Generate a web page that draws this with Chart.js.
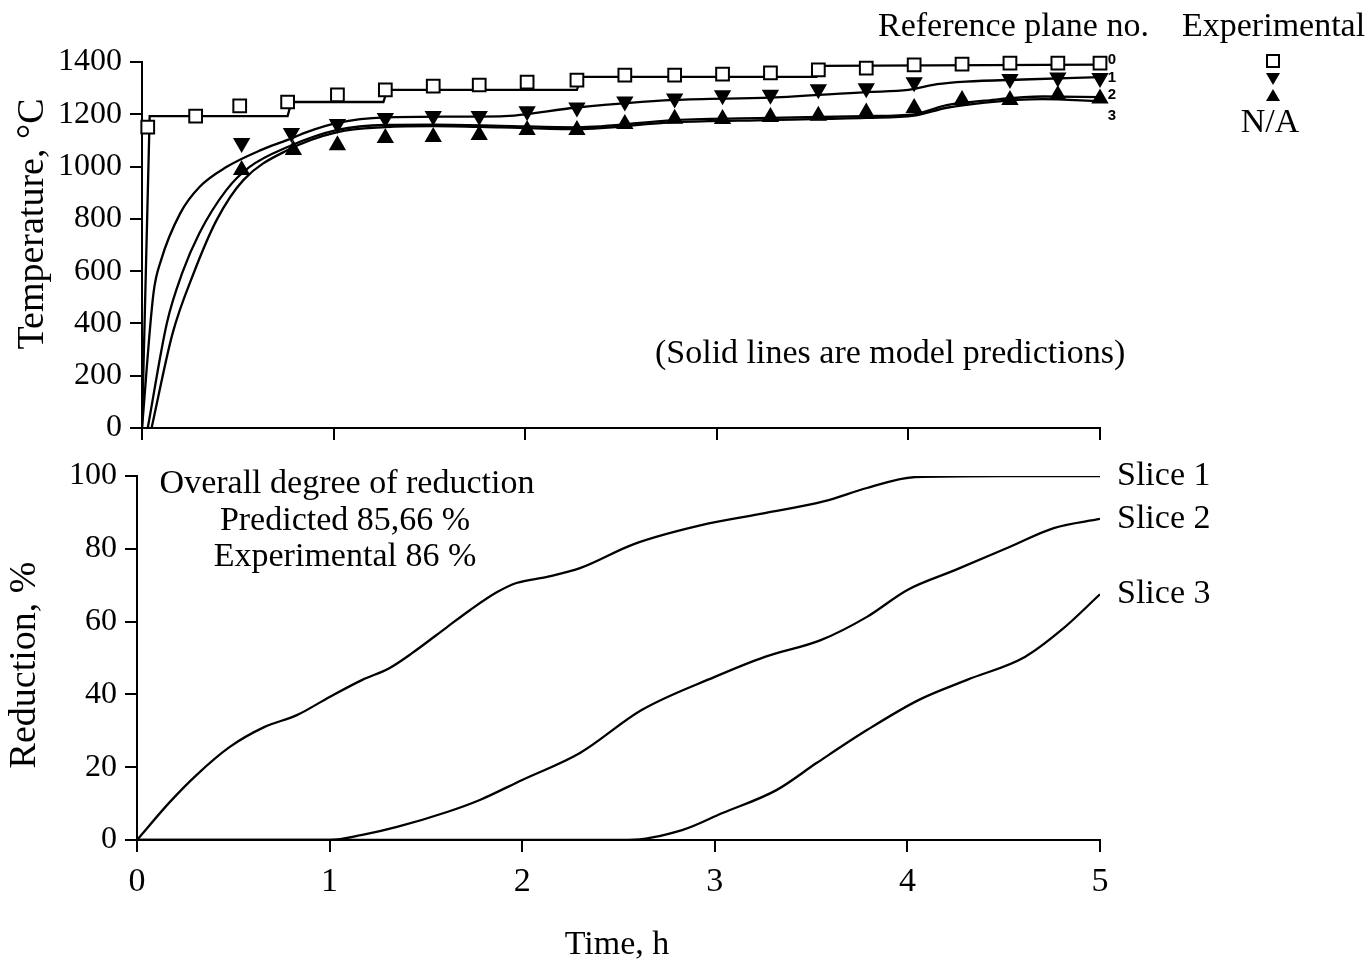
<!DOCTYPE html>
<html>
<head>
<meta charset="utf-8">
<script src="https://cdn.jsdelivr.net/npm/chart.js@4.4.0/dist/chart.umd.min.js"></script>
<style>
  html, body { margin: 0; padding: 0; background: #fff; }
  #wrap { position: relative; width: 1372px; height: 962px; }
  canvas { position: absolute; left: 0; top: 0; }
</style>
</head>
<body>
<div id="wrap">
  <canvas id="temp" width="1372" height="962"></canvas>
  <canvas id="red" width="1372" height="962"></canvas>
</div>
<script>
// values (time in h)
const timeTicks = [0, 1, 2, 3, 4, 5];

// model predictions, temperature in degC, per reference plane
const plane0Time = [0, 0.04, 0.76, 0.78, 1.26, 1.28, 2.27, 2.29, 3.52, 3.54, 5.0];
const plane0Temp = [0, 1193, 1193, 1247, 1247, 1293, 1293, 1343, 1343, 1385, 1390];

const plane1Time = [0, 0.06, 0.10, 0.20, 0.30, 0.44, 0.62, 0.76, 0.86, 1.02, 1.27, 1.60, 1.87, 2.27, 2.78, 3.28, 3.78, 4.0, 4.15, 4.3, 4.6, 5.0];
const plane1Temp = [0, 516, 643, 822, 922, 998, 1063, 1102, 1132, 1167, 1188, 1191, 1192, 1226, 1255, 1264, 1285, 1293, 1315, 1325, 1333, 1342];

const plane2Time = [0.03, 0.13, 0.21, 0.30, 0.44, 0.56, 0.76, 1.02, 1.27, 1.52, 1.87, 2.27, 2.78, 3.28, 3.78, 4.03, 4.2, 4.4, 4.7, 5.0];
const plane2Temp = [0, 402, 593, 746, 910, 998, 1075, 1140, 1159, 1160, 1156, 1150, 1178, 1186, 1193, 1200, 1235, 1252, 1268, 1266];

const plane3Time = [0.05, 0.16, 0.27, 0.39, 0.53, 0.76, 1.02, 1.27, 1.52, 1.87, 2.27, 2.78, 3.28, 3.78, 4.03, 4.2, 4.4, 4.7, 5.0];
const plane3Temp = [0, 363, 593, 796, 949, 1063, 1132, 1151, 1155, 1150, 1143, 1170, 1178, 1186, 1195, 1225, 1245, 1258, 1250];

// experimental points
const exp0Time = [0.03, 0.28, 0.51, 0.76, 1.02, 1.27, 1.52, 1.76, 2.01, 2.27, 2.52, 2.78, 3.03, 3.28, 3.53, 3.78, 4.03, 4.28, 4.53, 4.78, 5.0];
const exp0Temp = [1151, 1193, 1232, 1247, 1274, 1293, 1308, 1312, 1323, 1331, 1350, 1350, 1354, 1358, 1370, 1377, 1389, 1392, 1396, 1396, 1396];

const exp1Time = [0.52, 0.78, 1.02, 1.27, 1.52, 1.76, 2.01, 2.27, 2.52, 2.78, 3.03, 3.28, 3.53, 3.78, 4.03, 4.53, 4.78, 5.0];
const exp1Temp = [1090, 1128, 1163, 1186, 1193, 1193, 1212, 1226, 1249, 1260, 1273, 1275, 1296, 1300, 1323, 1335, 1341, 1339];

const exp2Time = [0.52, 0.79, 1.02, 1.27, 1.52, 1.76, 2.01, 2.27, 2.52, 2.78, 3.03, 3.28, 3.53, 3.78, 4.03, 4.28, 4.53, 4.78, 5.0];
const exp2Temp = [987, 1063, 1082, 1109, 1113, 1121, 1140, 1140, 1163, 1183, 1182, 1190, 1194, 1207, 1224, 1255, 1255, 1274, 1260];

// reduction in %, per slice
const slice1Time = [0, 0.17, 0.31, 0.48, 0.66, 0.83, 1.0, 1.17, 1.31, 1.43, 1.61, 1.73, 1.87, 1.97, 2.13, 2.30, 2.58, 2.93, 3.26, 3.57, 3.79, 4.04, 4.5, 5.0];
const slice1Red = [0, 10.4, 17.9, 25.5, 31, 34.3, 39.3, 44, 47.2, 51.4, 58.5, 63.2, 68.1, 70.6, 72.3, 74.7, 81.3, 86.5, 89.8, 93.1, 96.7, 99.7, 100, 100];

const slice2Time = [0, 1.0, 1.17, 1.35, 1.61, 1.78, 2.0, 2.30, 2.62, 3.0, 3.26, 3.55, 3.79, 4.0, 4.25, 4.53, 4.76, 5.0];
const slice2Red = [0, 0, 1.4, 3.6, 7.7, 11, 16.5, 23.9, 35.7, 44.8, 50.3, 54.9, 61.3, 68.7, 74.2, 80.5, 85.7, 88.2];

const slice3Time = [0, 2.55, 2.83, 3.04, 3.32, 3.53, 3.79, 4.06, 4.31, 4.61, 4.80, 5.0];
const slice3Red = [0, 0, 2.7, 7.4, 13.7, 21.2, 30.2, 38.5, 44, 50.3, 57.7, 67.5];

const sliceNames = ['Slice 1', 'Slice 2', 'Slice 3'];

const SERIF = '"Liberation Serif", "Times New Roman", serif';

function pts(xs, ys) {
  return xs.map((x, i) => ({ x: x, y: ys[i] }));
}

function modelLine(xs, ys, smooth) {
  return {
    data: pts(xs, ys),
    showLine: true,
    pointRadius: 0,
    borderColor: '#000',
    borderWidth: 2.3,
    cubicInterpolationMode: smooth ? 'monotone' : 'default',
    tension: 0,
    order: 1
  };
}

function markers(xs, ys, style, rot, fill, r) {
  return {
    data: pts(xs, ys),
    showLine: false,
    pointStyle: style,
    rotation: rot,
    pointRadius: r,
    pointBorderWidth: 2,
    pointBorderColor: '#000',
    pointBackgroundColor: fill,
    clip: false,
    order: 0
  };
}

function axis(min, max, step, fit, showLabels, fontSize, pad) {
  return {
    type: 'linear',
    min: min,
    max: max,
    afterFit: fit,
    ticks: {
      stepSize: step,
      display: showLabels,
      color: '#000',
      padding: pad,
      font: { family: SERIF, size: fontSize },
      callback: v => String(v)
    },
    grid: { drawOnChartArea: false, drawTicks: true, tickLength: 12, color: '#000', lineWidth: 2 },
    border: { display: true, color: '#000', width: 2 }
  };
}

const topText = {
  id: 'topText',
  afterDraw(chart) {
    const ctx = chart.ctx;
    ctx.save();
    ctx.fillStyle = '#000';
    ctx.strokeStyle = '#000';
    ctx.textBaseline = 'middle';
    ctx.font = '34px ' + SERIF;
    ctx.textAlign = 'left';
    ctx.fillText('Reference plane no.', 878, 27);
    ctx.fillText('Experimental', 1182, 27);
    ctx.fillText('(Solid lines are model predictions)', 655, 354);
    ctx.textAlign = 'center';
    ctx.fillText('N/A', 1270, 123);

    ctx.font = 'bold 15px "Liberation Sans", Arial, sans-serif';
    ['0', '1', '2', '3'].forEach((s, i) => ctx.fillText(s, 1112, [60, 78, 95, 116][i]));

    // key of experimental symbols
    ctx.lineWidth = 2;
    ctx.strokeRect(1267, 55, 12, 12);
    ctx.beginPath();
    ctx.moveTo(1266, 73); ctx.lineTo(1280, 73); ctx.lineTo(1273, 85); ctx.closePath();
    ctx.fill();
    ctx.beginPath();
    ctx.moveTo(1266, 101); ctx.lineTo(1280, 101); ctx.lineTo(1273, 89); ctx.closePath();
    ctx.fill();

    ctx.translate(33, 224);
    ctx.rotate(-Math.PI / 2);
    ctx.font = '38px ' + SERIF;
    ctx.textAlign = 'center';
    ctx.fillText('Temperature, \u00B0C', 0, 0);
    ctx.restore();
  }
};

const bottomText = {
  id: 'bottomText',
  afterDraw(chart) {
    const ctx = chart.ctx;
    const xs = chart.scales.x, ys = chart.scales.y;
    ctx.save();
    ctx.fillStyle = '#000';
    ctx.textBaseline = 'middle';
    ctx.font = '34px ' + SERIF;
    ctx.textAlign = 'center';
    ctx.fillText('Overall degree of reduction', 347, 484);
    ctx.fillText('Predicted 85,66 %', 345, 521);
    ctx.fillText('Experimental 86 %', 345, 557);
    ctx.fillText('Time, h', 617, 945);

    ctx.textAlign = 'left';
    const ends = [slice1Red, slice2Red, slice3Red].map(a => a[a.length - 1]);
    sliceNames.forEach((name, i) => {
      ctx.fillText(name, xs.right + 17, ys.getPixelForValue(ends[i]));
    });

    ctx.translate(25, 665);
    ctx.rotate(-Math.PI / 2);
    ctx.font = '38px ' + SERIF;
    ctx.textAlign = 'center';
    ctx.fillText('Reduction, %', 0, 0);
    ctx.restore();
  }
};

new Chart(document.getElementById('temp'), {
  type: 'scatter',
  data: {
    datasets: [
      modelLine(plane0Time, plane0Temp, false),
      modelLine(plane1Time, plane1Temp, true),
      modelLine(plane2Time, plane2Temp, true),
      modelLine(plane3Time, plane3Temp, true),
      markers(exp0Time, exp0Temp, 'rect', 0, '#fff', 9),
      markers(exp1Time, exp1Temp, 'triangle', 180, '#000', 8),
      markers(exp2Time, exp2Temp, 'triangle', 0, '#000', 8)
    ]
  },
  options: {
    responsive: false,
    animation: false,
    devicePixelRatio: 1,
    layout: { padding: { left: 0, top: 62, right: 272, bottom: 514 } },
    plugins: { legend: { display: false }, tooltip: { enabled: false } },
    scales: {
      x: axis(timeTicks[0], timeTicks[timeTicks.length - 1], 1, s => { s.height = 20; }, false, 34, 8),
      y: axis(0, 1400, 200, s => { s.width = 142; }, true, 32, 8)
    }
  },
  plugins: [topText]
});

new Chart(document.getElementById('red'), {
  type: 'scatter',
  data: {
    datasets: [
      modelLine(slice1Time, slice1Red, true),
      modelLine(slice2Time, slice2Red, true),
      modelLine(slice3Time, slice3Red, true)
    ]
  },
  options: {
    responsive: false,
    animation: false,
    devicePixelRatio: 1,
    layout: { padding: { left: 0, top: 476, right: 272, bottom: 62 } },
    plugins: { legend: { display: false }, tooltip: { enabled: false } },
    scales: {
      x: axis(timeTicks[0], timeTicks[timeTicks.length - 1], 1, s => { s.height = 60; }, true, 34, 10),
      y: axis(0, 100, 20, s => { s.width = 137; }, true, 32, 8)
    }
  },
  plugins: [bottomText]
});
</script>
</body>
</html>
